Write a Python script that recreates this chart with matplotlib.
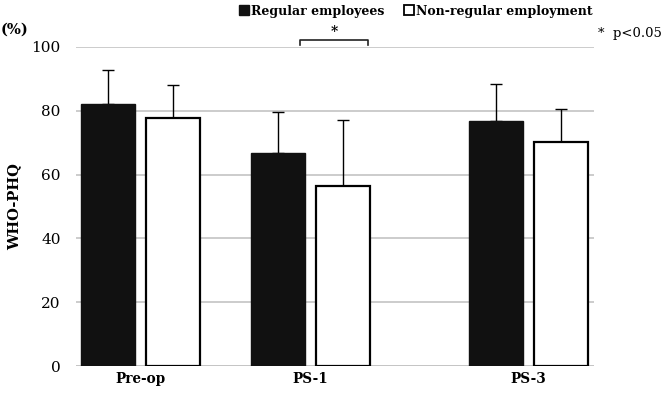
import matplotlib
matplotlib.use("Agg")
import matplotlib.pyplot as plt
from matplotlib.patches import Patch
import numpy as np

categories = ["Pre-op", "PS-1", "PS-3"]
regular_mean = [82.1, 66.8, 76.8]
regular_sd = [10.7, 12.8, 11.6]
nonreg_mean = [77.7, 56.4, 70.2]
nonreg_sd = [10.3, 20.7, 10.4]
yticks = [0, 20, 40, 60, 80, 100]

plt.rcParams['font.family'] = ['DejaVu Serif', 'DejaVu Sans']

fig = plt.figure(figsize=(6.65, 3.94), dpi=100)
ax = fig.add_axes([76/665, 1-366/394, (594-76)/665, (366-47)/394])

pos = np.array([0.0, 1.0, 2.282])
w = 0.318
off = 0.191

ax.bar(pos - off, regular_mean, w, color='#111111', edgecolor='#111111', zorder=3)
ax.errorbar(pos - off, regular_mean, yerr=[np.zeros(3), regular_sd], fmt='none',
            ecolor='black', elinewidth=1, capsize=4.5, capthick=1, zorder=2)
ax.bar(pos + off, nonreg_mean, w, color='white', edgecolor='black', linewidth=1.6, zorder=3)
ax.errorbar(pos + off, nonreg_mean, yerr=[np.zeros(3), nonreg_sd], fmt='none',
            ecolor='black', elinewidth=1, capsize=4.5, capthick=1, zorder=2)

ax.set_xlim(-0.379, 2.668)
ax.set_ylim(0, 100)
ax.set_yticks(yticks)
ax.yaxis.grid(True, color='#c4c4c4', linewidth=1.2, zorder=0)
ax.set_axisbelow(True)
for s in ['top', 'right', 'left', 'bottom']:
    ax.spines[s].set_visible(False)
ax.axhline(0, color='#c4c4c4', linewidth=1.2, zorder=1)
ax.tick_params(axis='y', length=0, labelsize=11, pad=11)
ax.tick_params(axis='x', length=0, labelsize=9.8, pad=4)
ax.set_xticks(pos)
ax.set_xticklabels(categories, fontweight='bold')
ax.set_ylabel("WHO-PHQ", fontsize=10.5, fontweight='bold', labelpad=7)

# significance bracket
x1, x2 = 0.94, 1.34
yb = 102.2
ax.plot([x1, x1, x2, x2], [yb - 1.7, yb, yb, yb - 1.7], color='#222222', linewidth=1.2, clip_on=False)
ax.text((x1 + x2) / 2, yb + 0.2, "*", ha='center', va='bottom', fontsize=10, fontweight='bold')

fig.text(662/665, 1-33/394, "*  p<0.05", ha='right', va='center', fontsize=9.5)
fig.text(1/665, 1-30/394, "(%)", ha='left', va='center', fontsize=10.5, fontweight='bold')

handles = [Patch(facecolor='#111111', edgecolor='#111111'),
           Patch(facecolor='white', edgecolor='black', linewidth=1.3)]
fig.legend(handles, ["Regular employees", "Non-regular employment"], ncol=2,
           loc='center', bbox_to_anchor=(416/665, 1-11/394), frameon=False,
           handlelength=0.8, handleheight=0.8, handletextpad=0.15, columnspacing=1.6,
           prop={'size': 9, 'weight': 'bold'}, borderpad=0)

fig.savefig("out.png", dpi=100)
